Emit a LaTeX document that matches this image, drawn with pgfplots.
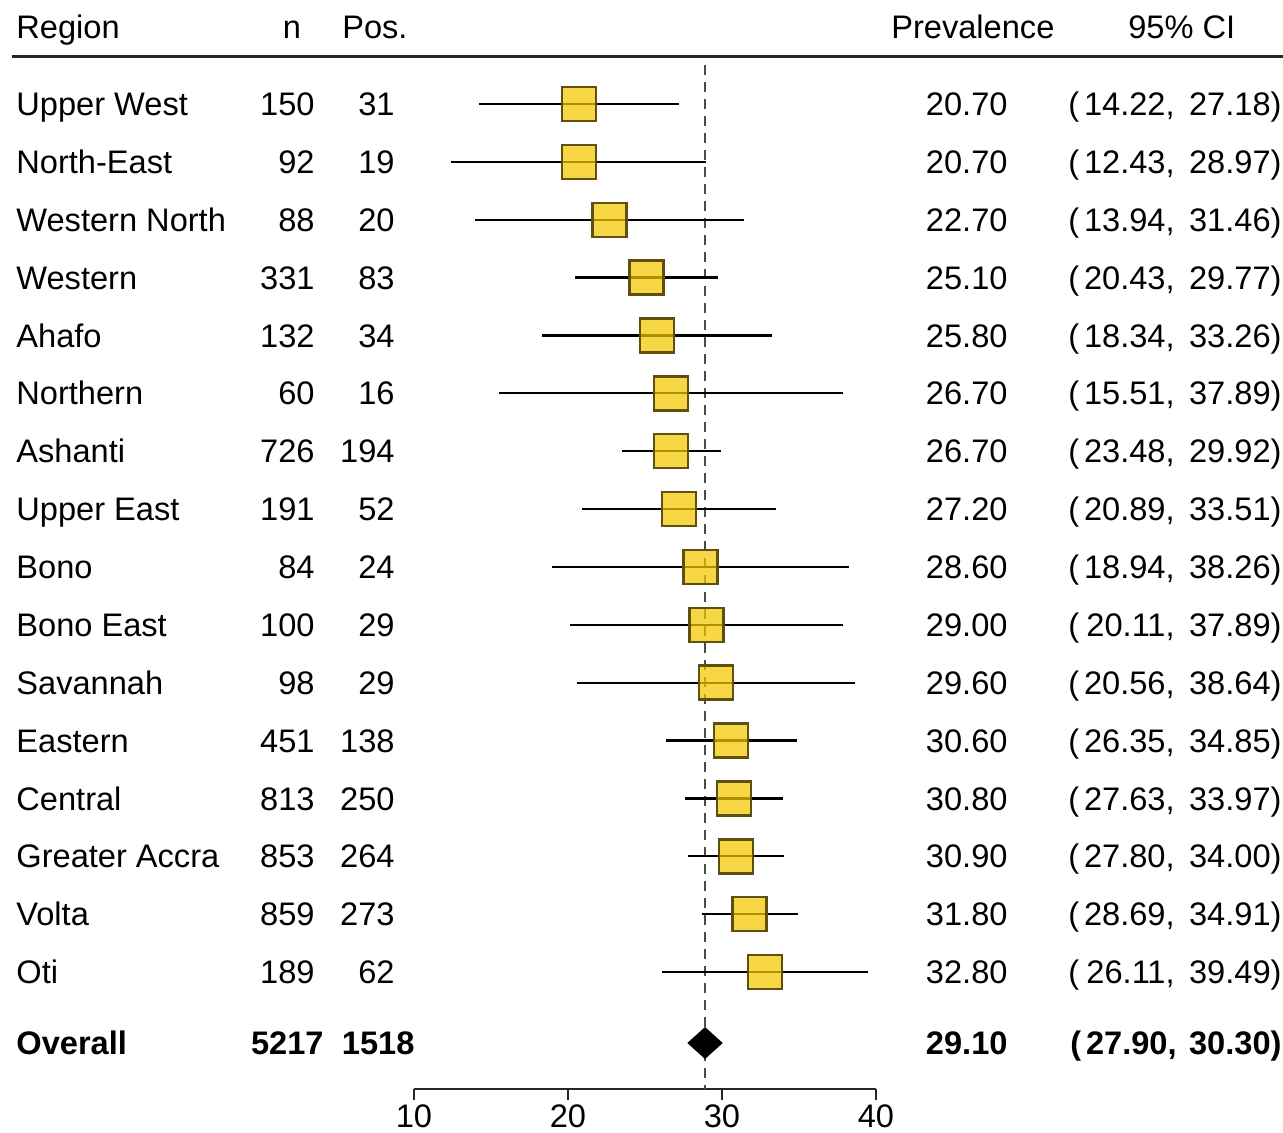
\documentclass[border=0pt]{standalone}
\usepackage{pgfplots}
\pgfplotsset{compat=1.18}
\usepackage{pgfplotstable}
\usepackage{fontspec}
\setmainfont{Liberation Sans}
\definecolor{boxfill}{RGB}{245,199,0}
\definecolor{boxedge}{RGB}{95,80,15}
\newcommand{\fs}{\fontsize{16.3}{19}\selectfont}

\pgfplotstableread{
y   est   lo    hi
15  20.70 14.22 27.18
14  20.70 12.43 28.97
13  22.70 13.94 31.46
12  25.10 20.43 29.77
11  25.80 18.34 33.26
10  26.70 15.51 37.89
9   26.70 23.48 29.92
8   27.20 20.89 33.51
7   28.60 18.94 38.26
6   29.00 20.11 37.89
5   29.60 20.56 38.64
4   30.60 26.35 34.85
3   30.80 27.63 33.97
2   30.90 27.80 34.00
1   31.80 28.69 34.91
0   32.80 26.11 39.49
}\forestdata

\newcommand{\Row}[7]{%
 \node[anchor=base west] at (axis cs:-15.84,#1) {#2};
 \node[anchor=base east] at (axis cs:3.57,#1) {#3};
 \node[anchor=base east] at (axis cs:8.77,#1) {#4};
 \node[anchor=base east] at (axis cs:48.57,#1) {#5};
 \node[anchor=base west] at (axis cs:52.47,#1) {(};
 \node[anchor=base east] at (axis cs:59.42,#1) {#6,};
 \node[anchor=base east] at (axis cs:66.36,#1) {#7)};
}

\begin{document}
\begin{tikzpicture}[every node/.style={inner sep=0pt}]
\begin{axis}[
  x=7.7pt, y=28.935pt,
  xmin=10, xmax=40, ymin=-2.02, ymax=16.8,
  axis x line*=bottom, axis y line=none,
  ytick=\empty,
  x axis line style={-, line width=1pt, black!85},
  xtick={10,20,30,40},
  xticklabels={10,20,30,40},
  tick align=outside, major tick length=5.5pt,
  xtick style={line width=1pt, black!85},
  xticklabel style={font=\fs, inner sep=0pt, yshift=-2pt},
  clip=false,
  font=\fs,
]
% reference line
\addplot[black!70, line width=1.1pt, dash pattern=on 5pt off 3.5pt] coordinates {(28.9,15.674) (28.9,-2.02)};
% confidence intervals
\addplot[draw=none, mark=none, error bars/.cd, x dir=both, x explicit, error mark=none,
  error bar style={line width=1.1pt, black}]
  table[x=est, y=y, x error plus expr=\thisrow{hi}-\thisrow{est}, x error minus expr=\thisrow{est}-\thisrow{lo}] {\forestdata};
% boxes
\addplot[only marks, mark=square*, mark size=8.5pt,
  mark options={fill=boxfill, fill opacity=0.72, draw=boxedge, line width=1.2pt}]
  table[x=est, y=y] {\forestdata};
% overall diamond
\addplot[fill=black, draw=none] coordinates {(27.75,-1.226) (28.9,-0.95) (30.05,-1.226) (28.9,-1.502) (27.75,-1.226)};

% header
\node[anchor=base west] at (axis cs:-15.84,16.123) {Region};
\node[anchor=base] at (axis cs:2.08,16.123) {n};
\node[anchor=base west] at (axis cs:5.32,16.123) {Pos.};
\node[anchor=base west] at (axis cs:40.97,16.123) {Prevalence};
\node[anchor=base west] at (axis cs:56.36,16.123) {95\% CI};
\draw[line width=1.5pt, black!85] (axis cs:-16.10,15.812) -- (axis cs:66.43,15.812);

\begin{scope}[every node/.append style={yshift=-5.8pt}]
\Row{15}{Upper West}{150}{31}{20.70}{14.22}{27.18}
\Row{14}{North-East}{92}{19}{20.70}{12.43}{28.97}
\Row{13}{Western North}{88}{20}{22.70}{13.94}{31.46}
\Row{12}{Western}{331}{83}{25.10}{20.43}{29.77}
\Row{11}{Ahafo}{132}{34}{25.80}{18.34}{33.26}
\Row{10}{Northern}{60}{16}{26.70}{15.51}{37.89}
\Row{9}{Ashanti}{726}{194}{26.70}{23.48}{29.92}
\Row{8}{Upper East}{191}{52}{27.20}{20.89}{33.51}
\Row{7}{Bono}{84}{24}{28.60}{18.94}{38.26}
\Row{6}{Bono East}{100}{29}{29.00}{20.11}{37.89}
\Row{5}{Savannah}{98}{29}{29.60}{20.56}{38.64}
\Row{4}{Eastern}{451}{138}{30.60}{26.35}{34.85}
\Row{3}{Central}{813}{250}{30.80}{27.63}{33.97}
\Row{2}{Greater Accra}{853}{264}{30.90}{27.80}{34.00}
\Row{1}{Volta}{859}{273}{31.80}{28.69}{34.91}
\Row{0}{Oti}{189}{62}{32.80}{26.11}{39.49}
% overall
\node[anchor=base west, font=\fs\bfseries] at (axis cs:-15.84,-1.226) {Overall};
\node[anchor=base east, font=\fs\bfseries] at (axis cs:4.16,-1.226) {5217};
\node[anchor=base east, font=\fs\bfseries] at (axis cs:10.06,-1.226) {1518};
\node[anchor=base east, font=\fs\bfseries] at (axis cs:48.57,-1.226) {29.10};
\node[anchor=base west, font=\fs\bfseries] at (axis cs:52.6,-1.226) {(};
\node[anchor=base east, font=\fs\bfseries] at (axis cs:59.55,-1.226) {27.90,};
\node[anchor=base east, font=\fs\bfseries] at (axis cs:66.36,-1.226) {30.30)};
\end{scope}

\coordinate (bbSW) at (axis cs:-16.88,-2.764);
\coordinate (bbNE) at (axis cs:66.43,16.797);
\end{axis}
\pgfresetboundingbox
\path[use as bounding box] (bbSW) rectangle (bbNE);
\end{tikzpicture}
\end{document}
